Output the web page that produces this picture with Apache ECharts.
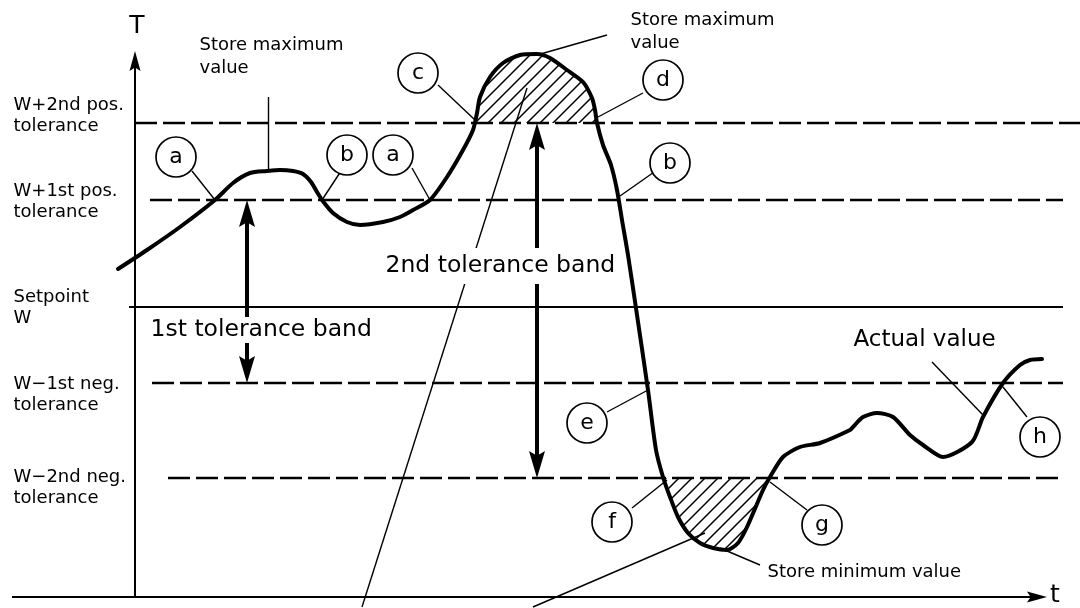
<!DOCTYPE html>
<html>
<head>
<meta charset="utf-8">
<script src="https://cdn.jsdelivr.net/npm/echarts@6/dist/echarts.min.js"></script>
<style>
html,body{margin:0;padding:0;background:#fff;}
#chart{width:1080px;height:608px;}
</style>
</head>
<body>
<div id="chart"></div>
<script>
// ---------- data (t = time units, T = value units) ----------
const levelNames = ['W+2nd pos.\ntolerance', 'W+1st pos.\ntolerance', 'Setpoint\nW', 'W\u22121st neg.\ntolerance', 'W\u22122nd neg.\ntolerance'];
const levelValues = [474, 397, 290, 214, 119];

const curveTime = [-17, 12, 45, 80, 98, 115, 132, 145, 158, 168,
  176, 182, 187, 198, 212, 225, 248, 265, 278, 295, 312,
  328, 338, 342, 345, 355, 368, 385, 402, 415, 432,
  448, 457, 460, 462, 468, 476, 482, 487, 493, 502,
  513, 521, 528, 535, 543, 553, 565, 578, 592, 603,
  612, 628, 635, 648, 665, 685, 715, 718, 728, 742,
  758, 775, 788, 808, 837, 848, 868, 885, 895, 907];
const curveValue = [328, 347, 370, 397, 414, 424, 426, 427, 426, 423,
  415, 405, 397, 384, 375, 372, 375, 380, 387, 397, 420,
  447, 467, 484, 500, 520, 534, 542, 543, 539, 527,
  515, 499, 487, 474, 452, 432, 407, 377, 342, 282,
  207, 147, 120, 100, 80, 64, 54, 49, 47, 54,
  70, 107, 120, 140, 150, 154, 167, 170, 180, 184,
  180, 162, 152, 140, 155, 180, 214, 232, 237, 238];

const markerLetters = ['a', 'b', 'a', 'c', 'd', 'b', 'e', 'f', 'g', 'h'];
const markerTime = [41, 212, 258, 283, 528, 535, 452, 477, 687, 905];
const markerValue = [440, 442, 442, 524, 517, 434, 174, 75, 72, 160];
// points on the curve that each marker refers to
const markerTargetTime = [80, 187, 295, 340, 463, 485, 513, 532, 635, 868];
const markerTargetValue = [397, 397, 397, 477, 480, 401, 207, 117, 115, 210];

const axisNames = ['T', 't'];
const bandNames = ['1st tolerance band', '2nd tolerance band'];
const noteTexts = ['Store maximum\nvalue', 'Store maximum\nvalue', 'Store minimum value', 'Actual value'];

// ---------- layout / styles ----------
const FONT = 'DejaVu Sans';
const BLACK = '#000';

function curvePts() { return curveTime.map((t, i) => [t, curveValue[i]]); }

// region of the curve above (dir=1) or below (dir=-1) a level, with interpolated crossings
function regionPolygon(level, dir) {
  const pts = curvePts();
  const out = [];
  for (let i = 0; i < pts.length; i++) {
    const p = pts[i];
    const inside = dir > 0 ? p[1] >= level : p[1] <= level;
    if (i > 0) {
      const q = pts[i - 1];
      const qin = dir > 0 ? q[1] >= level : q[1] <= level;
      if (inside !== qin && q[1] !== p[1]) {
        const f = (level - q[1]) / (p[1] - q[1]);
        out.push([q[0] + f * (p[0] - q[0]), level]);
      }
    }
    if (inside) out.push(p);
  }
  return out;
}

// hatch pattern
const hatch = document.createElement('canvas');
hatch.width = 13; hatch.height = 13;
(function () {
  const c = hatch.getContext('2d');
  c.strokeStyle = '#000';
  c.lineWidth = 1.5;
  c.beginPath();
  c.moveTo(-2, 15); c.lineTo(15, -2);
  c.moveTo(-2, 2); c.lineTo(2, -2);
  c.moveTo(11, 15); c.lineTo(15, 11);
  c.stroke();
})();

function arrowRender(width, headW, headL) {
  return function (params, api) {
    const p1 = api.coord([api.value(0), api.value(1)]);
    const p2 = api.coord([api.value(2), api.value(3)]);
    const both = api.value(4) === 1;
    const dx = p2[0] - p1[0], dy = p2[1] - p1[1];
    const len = Math.hypot(dx, dy);
    const ux = dx / len, uy = dy / len;
    const nx = -uy, ny = ux;
    function head(tip, ddx, ddy) {
      const bx = tip[0] + ddx * headL, by = tip[1] + ddy * headL;
      const notch = [tip[0] + ddx * headL * 0.82, tip[1] + ddy * headL * 0.82];
      return {
        type: 'polygon',
        shape: { points: [tip, [bx + nx * headW / 2, by + ny * headW / 2], notch, [bx - nx * headW / 2, by - ny * headW / 2]] },
        style: { fill: BLACK, stroke: null }
      };
    }
    let s = p1;
    if (both) s = [p1[0] + ux * headL * 0.7, p1[1] + uy * headL * 0.7];
    const e = [p2[0] - ux * headL * 0.7, p2[1] - uy * headL * 0.7];
    const children = [{ type: 'line', shape: { x1: s[0], y1: s[1], x2: e[0], y2: e[1] }, style: { stroke: BLACK, lineWidth: width } }];
    children.push(head(p2, -ux, -uy));
    if (both) children.push(head(p1, ux, uy));
    return { type: 'group', children };
  };
}

function polyRender(poly) {
  return function (params, api) {
    const pts = poly.map(p => api.coord(p));
    return { type: 'polygon', shape: { points: pts }, style: { fill: { image: hatch, repeat: 'repeat' }, stroke: null } };
  };
}

function txt(t, T, text, size, extra) {
  return {
    value: [t, T],
    label: Object.assign({
      show: true, formatter: text, position: 'right', distance: 0,
      fontFamily: FONT, fontSize: size, color: BLACK, opacity: 1
    }, extra || {})
  };
}

// ---------- geometry of the annotation ----------
const levelExtent = [[0, 945], [15, 928], [-6, 928], [17, 928], [33, 928]];
const levelLines = levelValues.map((v, i) => ({
  coords: [[levelExtent[i][0], v], [levelExtent[i][1], v]],
  lineStyle: i === 2 ? { type: 'solid', width: 2 } : { type: [22, 6], width: 2.4 }
}));

const markerLeaderStart = [[57, 426], [208, 429], [277, 429], [303, 512], [508, 504], [522, 427], [472, 185], [497, 89], [672, 87], [892, 180]];
const leaders = markerLeaderStart.map((s, i) => ({ coords: [s, [markerTargetTime[i], markerTargetValue[i]]] }));
leaders.push({ coords: [[797, 235], [848, 182]] });      // actual value
leaders.push({ coords: [[133, 500], [133, 427]] });      // store max (left)
leaders.push({ coords: [[472, 562], [402, 542]] });      // store max (right)
leaders.push({ coords: [[625, 32], [585, 49]] });        // store min
leaders.push({ coords: [[392, 509], [227, -10]] });      // 2nd band leader 1
leaders.push({ coords: [[570, 64], [398, -10]] });       // 2nd band leader 2

const leftLabelCenter = [481, 395.5, 289.5, 202.5, 109.5];

const texts = [];
levelNames.forEach((n, i) => texts.push(txt(-122, leftLabelCenter[i], n, 18, { lineHeight: 21 })));
texts.push(txt(64, 540, noteTexts[0], 18, { lineHeight: 23 }));
texts.push(txt(495, 565.5, noteTexts[1], 18, { lineHeight: 23 }));
texts.push(txt(632, 25, noteTexts[2], 18));
texts.push(txt(718, 257, noteTexts[3], 23));
texts.push(txt(15, 267, bandNames[0], 23.5, { lineHeight: 26, backgroundColor: '#fff' }));
texts.push(txt(250, 331, bandNames[1], 23.5, { lineHeight: 26, backgroundColor: '#fff', padding: [5, 0, 5, 0] }));
texts.push(txt(2, 571, axisNames[0], 25, { position: 'inside' }));
texts.push(txt(920, 2, axisNames[1], 25, { position: 'inside' }));

const option = {
  animation: false,
  backgroundColor: '#fff',
  grid: { left: 0, right: 0, top: 0, bottom: 0 },
  xAxis: { type: 'value', min: -135, max: 945, show: false },
  yAxis: { type: 'value', min: -11, max: 597, show: false },
  series: [
    { type: 'lines', coordinateSystem: 'cartesian2d', z: 1, silent: true,
      lineStyle: { color: BLACK, opacity: 1 }, data: levelLines },
    { type: 'custom', coordinateSystem: 'cartesian2d', z: 2, silent: true,
      renderItem: polyRender(regionPolygon(levelValues[0], 1)), data: [[0, 0]] },
    { type: 'custom', coordinateSystem: 'cartesian2d', z: 2, silent: true,
      renderItem: polyRender(regionPolygon(levelValues[4], -1)), data: [[0, 0]] },
    { type: 'lines', coordinateSystem: 'cartesian2d', z: 3, silent: true,
      lineStyle: { color: BLACK, width: 1.4, opacity: 1 }, data: leaders },
    { type: 'line', z: 4, silent: true, data: curvePts(), showSymbol: false, smooth: 0.25,
      lineStyle: { color: BLACK, width: 4, cap: 'round', join: 'round' } },
    { type: 'custom', coordinateSystem: 'cartesian2d', z: 4, silent: true,
      renderItem: arrowRender(2, 11, 20),
      data: [[0, 0, 0, 546, 0], [-123, 0, 912, 0, 0]] },
    { type: 'custom', coordinateSystem: 'cartesian2d', z: 4, silent: true,
      renderItem: arrowRender(4, 16, 27),
      data: [[112, 214, 112, 397, 1], [402, 119, 402, 474, 1]] },
    { type: 'scatter', z: 5, silent: true, symbol: 'circle', symbolSize: 40,
      itemStyle: { color: '#fff', borderColor: BLACK, borderWidth: 1.7, opacity: 1 },
      label: { show: true, position: 'inside', fontFamily: FONT, fontSize: 22, color: BLACK,
        formatter: p => markerLetters[p.dataIndex] },
      data: markerTime.map((t, i) => [t, markerValue[i]]) },
    { type: 'scatter', z: 6, silent: true, symbolSize: 1,
      itemStyle: { color: 'rgba(0,0,0,0)', opacity: 1 }, data: texts }
  ]
};

const chart = echarts.init(document.getElementById('chart'), null, { renderer: 'canvas' });
chart.setOption(option);
</script>
</body>
</html>
